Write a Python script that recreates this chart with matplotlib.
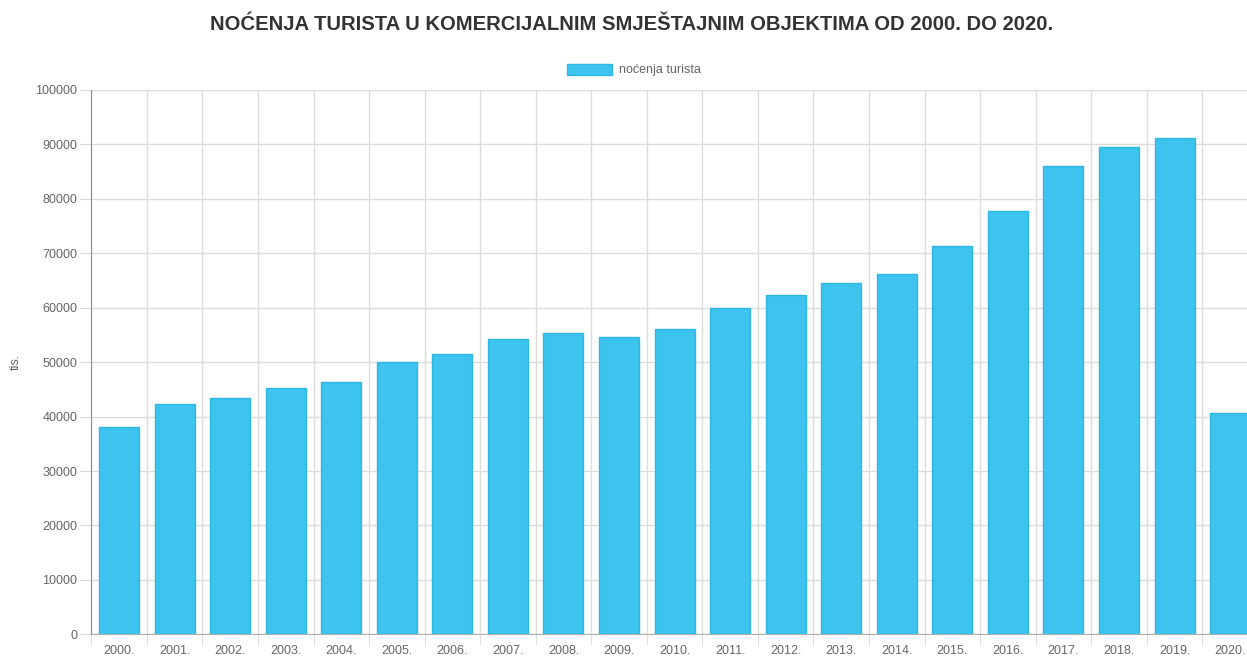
import matplotlib
matplotlib.use("Agg")
import matplotlib.pyplot as plt
import numpy as np

plt.rcParams['font.family'] = ['Liberation Sans', 'DejaVu Sans']

years = ["2000.", "2001.", "2002.", "2003.", "2004.", "2005.", "2006.", "2007.",
         "2008.", "2009.", "2010.", "2011.", "2012.", "2013.", "2014.", "2015.",
         "2016.", "2017.", "2018.", "2019.", "2020."]
nocenja = [38140, 42250, 43470, 45250, 46300, 49950, 51440, 54310, 55350, 54620,
           56090, 59950, 62340, 64490, 66140, 71340, 77825, 86040, 89530, 91125, 40600]
yticks = [0, 10000, 20000, 30000, 40000, 50000, 60000, 70000, 80000, 90000, 100000]

W, H = 1247, 661
fig = plt.figure(figsize=(W / 100, H / 100), dpi=100)
left, right, top, bottom = 91.3, 1257.9, 90, 634.3
ax = fig.add_axes([left / W, 1 - bottom / H, (right - left) / W, (bottom - top) / H])

x = np.arange(len(years))
ax.bar(x, nocenja, width=0.72, color='#3cc4ee', edgecolor='#2fb6e2', linewidth=1,
       label='noćenja turista', zorder=3)

ax.set_xlim(-0.5, len(years) - 0.5)
ax.set_ylim(0, 100000)
ax.set_yticks(yticks)
ax.set_yticklabels([str(v) for v in yticks])
ax.set_xticks(x)
ax.set_xticklabels(years)
ax.set_xticks(np.arange(len(years) + 1) - 0.5, minor=True)

ax.tick_params(axis='y', which='major', length=8, color='#d8d8d8', labelsize=9,
               labelcolor='#666666', pad=2)
ax.tick_params(axis='x', which='major', length=0, labelsize=9, labelcolor='#666666', pad=8)
ax.tick_params(axis='x', which='minor', length=8, color='#d8d8d8')

ax.grid(True, which='major', axis='y', color='#dcdcdc', linewidth=1, zorder=0)
ax.grid(True, which='minor', axis='x', color='#dcdcdc', linewidth=1, zorder=0)
ax.set_axisbelow(True)

for s in ['top', 'right']:
    ax.spines[s].set_visible(False)
ax.spines['left'].set_color('#8a8a8a')
ax.spines['bottom'].set_color('#b0b0b0')

ax.set_ylabel('tis.', fontsize=9, color='#666666')
ax.yaxis.set_label_coords(-70 / (right - left), 0.5)

fig.text(632 / W, 1 - 25 / H, 'NOĆENJA TURISTA U KOMERCIJALNIM SMJEŠTAJNIM OBJEKTIMA OD 2000. DO 2020.',
         ha='center', va='center', fontsize=14.6, fontweight='bold', color='#333333')

leg = ax.legend(loc='center', bbox_to_anchor=(634 / W, 1 - 70 / H), bbox_transform=fig.transFigure,
                frameon=False, fontsize=9, handlelength=3.6, handleheight=1.0,
                handletextpad=0.5, labelcolor='#666666')

fig.savefig('out.png', dpi=100)
